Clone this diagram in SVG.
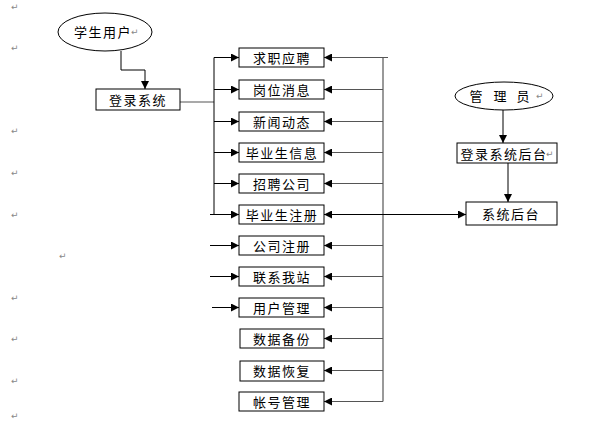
<svg xmlns="http://www.w3.org/2000/svg" width="589" height="424" viewBox="0 0 589 424">
<style>
.box{fill:#fff;stroke:#000;stroke-width:1}
.t{font-family:"Noto Sans CJK SC","Noto Sans",sans-serif;font-size:13px;letter-spacing:1.5px;fill:#000;text-anchor:middle;dominant-baseline:central}
.pm{font-family:"DejaVu Sans",sans-serif;font-size:9px;fill:#888}
.ln{stroke:#000;stroke-width:1;fill:none}
.lg{stroke:#555;stroke-width:1.2;fill:none}
</style>
<defs>
<marker id="ah" viewBox="0 0 10 10" refX="10" refY="5" markerWidth="9" markerHeight="8" markerUnits="userSpaceOnUse" orient="auto">
<path d="M0,0 L10,5 L0,10 Z" fill="#000"/>
</marker>
</defs>
<rect width="589" height="424" fill="#fff"/>
<g id="marks">
<text class="pm" x="11" y="10">↵</text>
<text class="pm" x="11" y="51">↵</text>
<text class="pm" x="11" y="134">↵</text>
<text class="pm" x="11" y="176">↵</text>
<text class="pm" x="11" y="218">↵</text>
<text class="pm" x="59" y="259">↵</text>
<text class="pm" x="11" y="301">↵</text>
<text class="pm" x="11" y="342">↵</text>
<text class="pm" x="11" y="384">↵</text>
<text class="pm" x="11" y="419">↵</text>
</g>
<g id="connectors">
<polyline class="ln" points="121,51 121,70 145,70 145,89" marker-end="url(#ah)"/>
<line class="lg" x1="180" y1="102" x2="214" y2="102"/>
<line class="ln" x1="214" y1="57.5" x2="214" y2="214.5"/>
<line class="ln" x1="214" y1="57.5" x2="239" y2="57.5" marker-end="url(#ah)"/>
<line class="ln" x1="214" y1="89.5" x2="239" y2="89.5" marker-end="url(#ah)"/>
<line class="ln" x1="214" y1="121.5" x2="239" y2="121.5" marker-end="url(#ah)"/>
<line class="ln" x1="214" y1="152.5" x2="239" y2="152.5" marker-end="url(#ah)"/>
<line class="ln" x1="214" y1="183.5" x2="239" y2="183.5" marker-end="url(#ah)"/>
<line class="ln" x1="210" y1="214.5" x2="239" y2="214.5" marker-end="url(#ah)"/>
<line class="ln" x1="210" y1="245.5" x2="239" y2="245.5" marker-end="url(#ah)"/>
<line class="ln" x1="210" y1="276.5" x2="239" y2="276.5" marker-end="url(#ah)"/>
<line class="ln" x1="212" y1="307.5" x2="239" y2="307.5" marker-end="url(#ah)"/>
<line class="lg" x1="383" y1="57.5" x2="383" y2="401.5"/>
<line class="lg" x1="388" y1="57.5" x2="324" y2="57.5" marker-end="url(#ah)"/>
<line class="lg" x1="383" y1="89.5" x2="324" y2="89.5" marker-end="url(#ah)"/>
<line class="lg" x1="383" y1="121.5" x2="324" y2="121.5" marker-end="url(#ah)"/>
<line class="lg" x1="383" y1="152.5" x2="324" y2="152.5" marker-end="url(#ah)"/>
<line class="lg" x1="383" y1="183.5" x2="324" y2="183.5" marker-end="url(#ah)"/>
<line class="ln" x1="383" y1="214.5" x2="324" y2="214.5" marker-end="url(#ah)"/>
<line class="ln" x1="383" y1="214.5" x2="466" y2="214.5" marker-end="url(#ah)"/>
<line class="lg" x1="383" y1="245.5" x2="324" y2="245.5" marker-end="url(#ah)"/>
<line class="lg" x1="383" y1="276.5" x2="324" y2="276.5" marker-end="url(#ah)"/>
<line class="lg" x1="383" y1="307.5" x2="324" y2="307.5" marker-end="url(#ah)"/>
<line class="lg" x1="383" y1="338.5" x2="324" y2="338.5" marker-end="url(#ah)"/>
<line class="lg" x1="383" y1="370.5" x2="324" y2="370.5" marker-end="url(#ah)"/>
<line class="lg" x1="383" y1="401.5" x2="324" y2="401.5" marker-end="url(#ah)"/>
<line class="ln" x1="503" y1="110" x2="503" y2="143" marker-end="url(#ah)"/>
<line class="ln" x1="508" y1="163" x2="508" y2="202" marker-end="url(#ah)"/>
</g>
<g id="n-student">
<ellipse cx="105" cy="32" rx="47" ry="19" fill="#fff" stroke="#000"/>
<text class="t" x="103" y="31">学生用户</text>
<text class="pm" x="131" y="35">↵</text>
</g>
<g id="n-login"><rect class="box" x="96" y="89" width="84" height="21"/><text class="t" x="138" y="99.5">登录系统</text></g>
<g id="n1"><rect class="box" x="239" y="48" width="85" height="19"/><text class="t" x="282" y="57.5">求职应聘</text></g>
<g id="n2"><rect class="box" x="239" y="80" width="85" height="19"/><text class="t" x="282" y="89.5">岗位消息</text></g>
<g id="n3"><rect class="box" x="239" y="112" width="85" height="19"/><text class="t" x="282" y="121.5">新闻动态</text></g>
<g id="n4"><rect class="box" x="239" y="143" width="85" height="19"/><text class="t" x="282" y="152.5">毕业生信息</text></g>
<g id="n5"><rect class="box" x="239" y="174" width="85" height="19"/><text class="t" x="282" y="183.5">招聘公司</text></g>
<g id="n6"><rect class="box" x="239" y="205" width="85" height="19"/><text class="t" x="282" y="214.5">毕业生注册</text></g>
<g id="n7"><rect class="box" x="239" y="236" width="85" height="19"/><text class="t" x="282" y="245.5">公司注册</text></g>
<g id="n8"><rect class="box" x="239" y="267" width="85" height="19"/><text class="t" x="282" y="276.5">联系我站</text></g>
<g id="n9"><rect class="box" x="239" y="298" width="85" height="19"/><text class="t" x="282" y="307.5">用户管理</text></g>
<g id="n10"><rect class="box" x="240" y="329" width="84" height="19"/><text class="t" x="282" y="338.5">数据备份</text></g>
<g id="n11"><rect class="box" x="240" y="361" width="84" height="20"/><text class="t" x="282" y="370.5">数据恢复</text></g>
<g id="n12"><rect class="box" x="239" y="392" width="85" height="19"/><text class="t" x="282" y="401.5">帐号管理</text></g>
<g id="n-admin">
<ellipse cx="504" cy="96" rx="49" ry="14" fill="#fff" stroke="#000"/>
<text class="t" y="95" style="letter-spacing:0"><tspan x="476">管</tspan><tspan x="500">理</tspan><tspan x="523">员</tspan></text>
<text class="pm" x="536" y="99">↵</text>
</g>
<g id="n-adminlogin"><rect class="box" x="457" y="143" width="100" height="20"/><text class="t" x="504" y="153">登录系统后台</text><text class="pm" x="546" y="157">↵</text></g>
<g id="n-backend"><rect class="box" x="466" y="202" width="91" height="23"/><text class="t" x="511" y="213.5">系统后台</text></g>
</svg>
